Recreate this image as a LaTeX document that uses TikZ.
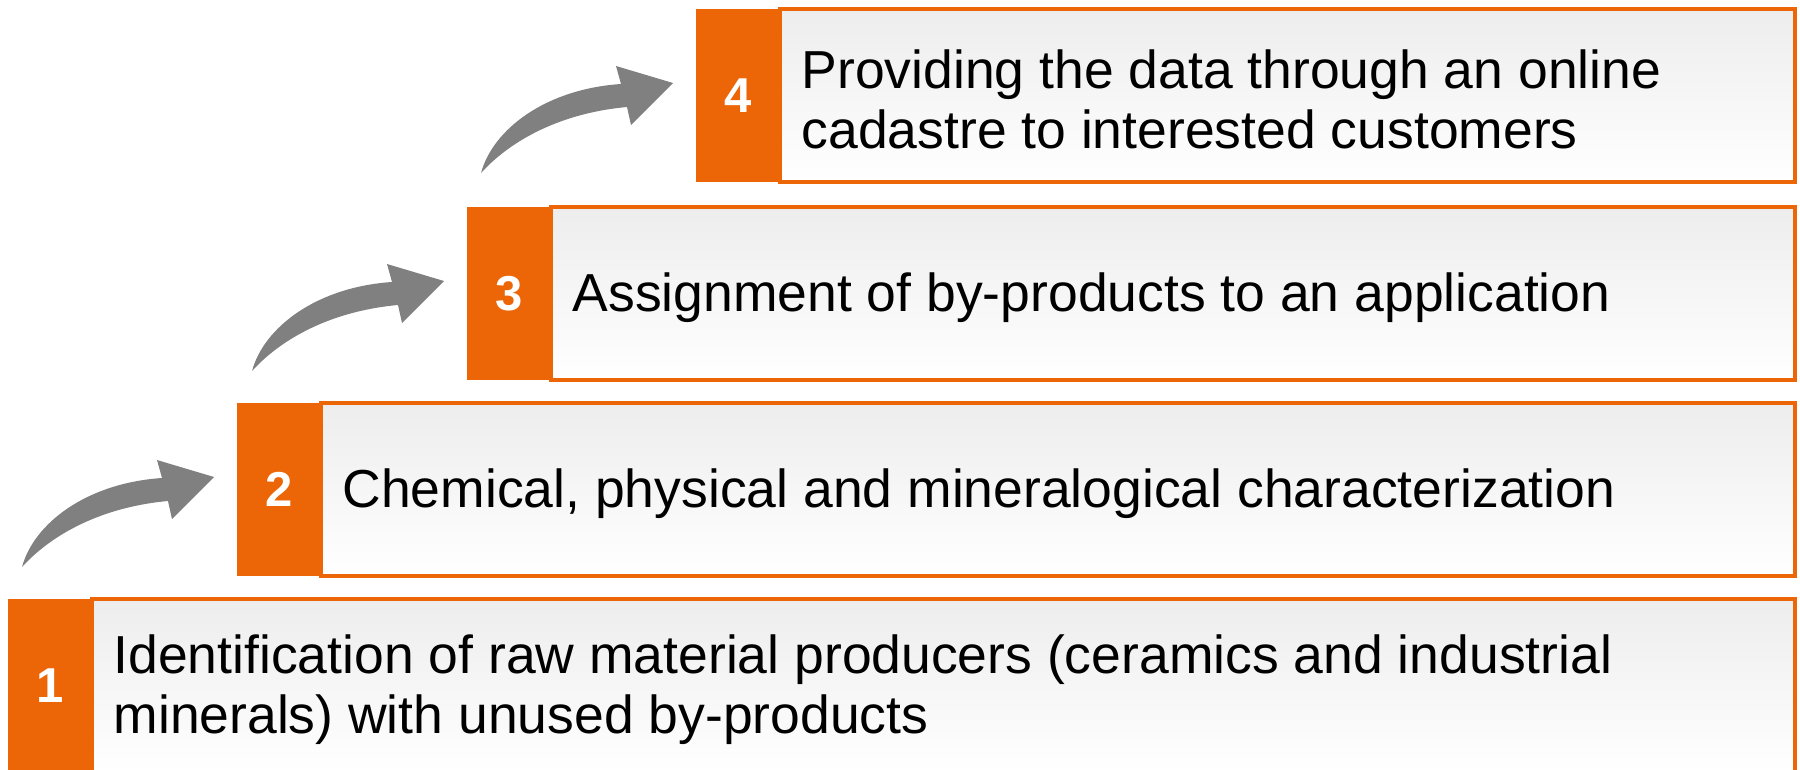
\documentclass[tikz,border=0pt]{standalone}
\usepackage{fontspec}
\setmainfont{Liberation Sans}
\usetikzlibrary{positioning,calc,fit}
\definecolor{myorange}{RGB}{236,102,8}
\definecolor{mygray}{RGB}{128,128,128}
\definecolor{mylight}{RGB}{237,237,237}
\newcommand\stepbox[4]{
\node[numb] (#1) at (#2) {#3};
\node[textb,fit={(#1.north east) (#1.south east -| rim)}] (#1box) {};
\node[stept,right=21pt of #1.east,yshift=-4pt] (#1txt) {#4};
}
\newcommand\steparrow[1]{
\fill[arrowb,shift={($(#1.north west)+(-215,164)$)}]
  (0,0) .. controls (12,-44) and (65,-84) .. (140,-89) -- (135,-107) -- (192,-90)
  -- (150,-48) -- (146,-66) .. controls (80,-60) and (30,-33) .. (0,0);
}

\begin{document}
\begin{tikzpicture}[x=1pt,y=-1pt,
numb/.style={
  fill=myorange,
  anchor=north west,
  inner sep=0pt,
  minimum width=84pt,
  minimum height=173pt,
  font={\bfseries\fontsize{49}{49}\selectfont\color{white}}},
textb/.style={
  draw=myorange,
  line width=4pt,
  inner sep=0pt,
  top color=mylight,
  bottom color=white},
stept/.style={
  inner sep=0pt,
  align=left,
  font={\fontsize{53.5}{60}\selectfont}},
arrowb/.style={fill=mygray},
]
\useasboundingbox (0,0) rectangle (1800,769);
\coordinate (rim) at (1795,0);
\stepbox{s1}{8,599}{1}{Identification of raw material producers (ceramics and industrial\\minerals) with unused by-products}
\stepbox{s2}{237,403}{2}{Chemical, physical and mineralogical characterization}
\stepbox{s3}{467,207}{3}{Assignment of by-products to an application}
\stepbox{s4}{696,9}{4}{Providing the data through an online\\cadastre to interested customers}
% arrows between the steps
\steparrow{s2}
\steparrow{s3}
\steparrow{s4}
\end{tikzpicture}
\end{document}
